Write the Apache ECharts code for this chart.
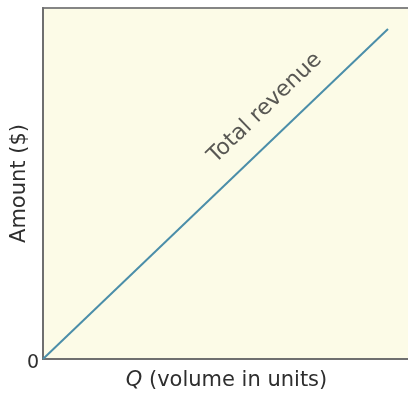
<!DOCTYPE html>
<html><head><meta charset="utf-8">
<script src="https://cdn.jsdelivr.net/npm/echarts@6/dist/echarts.min.js"></script>
<style>html,body{margin:0;padding:0;background:#fff}#c{width:408px;height:395px}</style>
</head><body><div id="c"></div>
<script>
const quantity = [0, 94];
const revenue = [0, 94];
const curveLabel = 'Total revenue';
const labelPos = [60.5, 71.5];
const xTitle = 'Q';
const xTitleRest = ' (volume in units)';
const yTitle = 'Amount ($)';

const chart = echarts.init(document.getElementById('c'));
const font = 'DejaVu Sans';
const txt = '#2e2e2e';
chart.setOption({
  animation: false,
  backgroundColor: '#ffffff',
  grid: { left: 43, top: 8, right: -2, bottom: 36, outerBoundsMode: 'none', containLabel: false,
    show: true, backgroundColor: '#fcfbe7', borderColor: '#858585', borderWidth: 2 },
  xAxis: {
    type: 'value', min: 0, max: 100, interval: 100,
    axisLine: { show: true, onZero: false, lineStyle: { color: '#6f6f6f', width: 2 } },
    axisTick: { show: false }, splitLine: { show: false }, axisLabel: { show: false },
    name: '{q|' + xTitle + '}{r|' + xTitleRest + '}', nameLocation: 'middle', nameGap: 11,
    nameMoveOverlap: false,
    nameTextStyle: { rich: {
      q: { fontFamily: font, fontSize: 21, fontStyle: 'italic', color: txt },
      r: { fontFamily: font, fontSize: 21, color: txt } } }
  },
  yAxis: {
    type: 'value', min: 0, max: 100, interval: 100,
    axisLine: { show: true, onZero: false, lineStyle: { color: '#6f6f6f', width: 2 } },
    axisTick: { show: false }, splitLine: { show: false },
    axisLabel: { show: true, showMaxLabel: false, margin: 4, fontFamily: font, fontSize: 19, color: txt, verticalAlign: 'top', padding: [-5,0,0,0] },
    name: yTitle, nameLocation: 'middle', nameGap: 13, nameMoveOverlap: false,
    nameTextStyle: { fontFamily: font, fontSize: 21, color: txt }
  },
  series: [
    { type: 'line', data: quantity.map((q, i) => [q, revenue[i]]), symbol: 'none',
      lineStyle: { color: '#4b8ea9', width: 2 }, z: 3 },
    { type: 'scatter', data: [labelPos], symbolSize: 0, silent: true,
      label: { show: true, formatter: curveLabel, position: 'inside', rotate: 44,
        fontFamily: font, fontSize: 22, color: txt } }
  ]
});
</script></body></html>
